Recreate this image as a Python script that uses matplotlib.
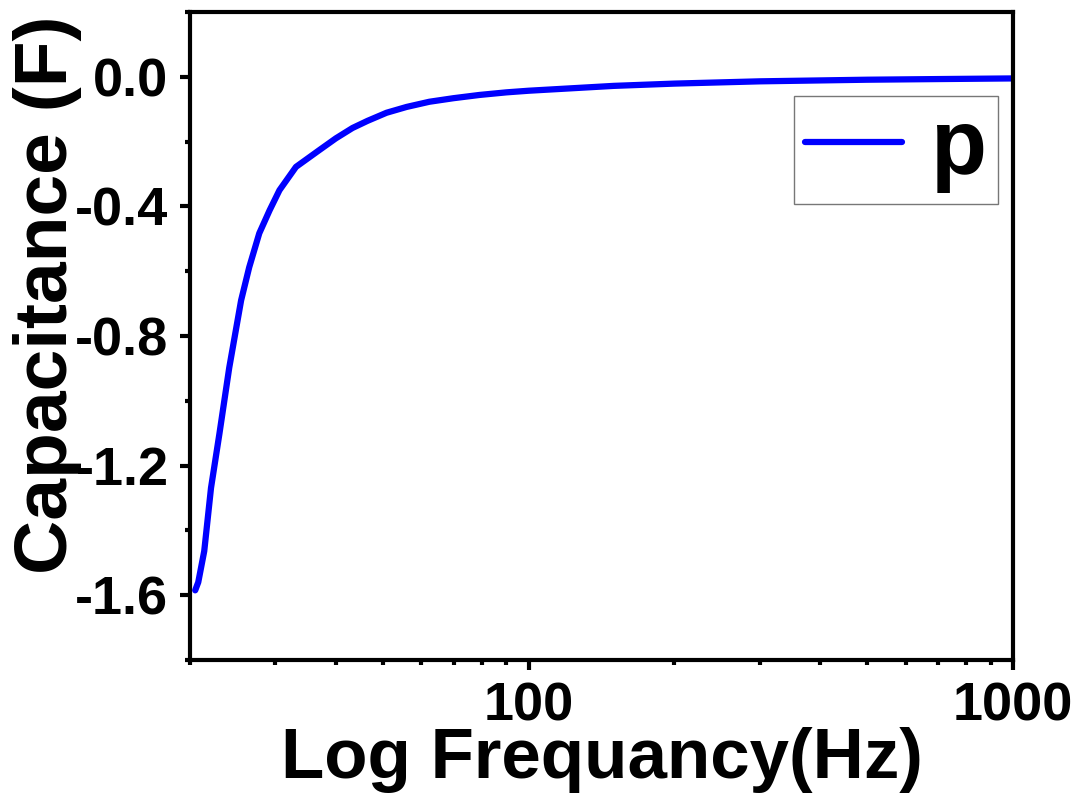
import numpy as np
import matplotlib.pyplot as plt
from matplotlib.ticker import MultipleLocator, FixedLocator, NullFormatter

# Data (frequency in Hz, capacitance in F)
freq = [20.5, 20.8, 21.4, 22.1, 23.0, 24.1, 25.5, 26.5, 27.8, 29.2, 30.6,
        33.1, 37.0, 40.0, 43.3, 46.5, 50.9, 56.0, 62.4, 70.0, 79.2, 90.0,
        100, 150, 200, 300, 500, 700, 1000]
cap = [-1.585, -1.56, -1.464, -1.269, -1.102, -0.898, -0.69, -0.588, -0.483,
       -0.412, -0.350, -0.278, -0.226, -0.190, -0.158, -0.136, -0.111,
       -0.093, -0.077, -0.066, -0.056, -0.048, -0.043, -0.028, -0.021,
       -0.014, -0.009, -0.007, -0.005]

plt.rcParams['font.family'] = ['Liberation Sans', 'DejaVu Sans']
plt.rcParams['font.weight'] = 'bold'

fig = plt.figure(figsize=(10.81, 7.96), dpi=100)
ax = fig.add_axes([190 / 1081, 136 / 796, 823 / 1081, 648 / 796])

ax.plot(freq, cap, color='#0000ff', lw=4.5, label='p',
        solid_capstyle='round', solid_joinstyle='round')

ax.set_xscale('log')
ax.set_xlim(20, 1000)
ax.set_ylim(-1.8, 0.2)

ax.xaxis.set_major_locator(FixedLocator([100, 1000]))
ax.xaxis.set_major_formatter(plt.FuncFormatter(lambda v, p: '%d' % v))
ax.xaxis.set_minor_locator(FixedLocator([20, 30, 40, 50, 60, 70, 80, 90,
                                         200, 300, 400, 500, 600, 700, 800, 900]))
ax.xaxis.set_minor_formatter(NullFormatter())
ax.yaxis.set_major_locator(MultipleLocator(0.4))
ax.yaxis.set_minor_locator(MultipleLocator(0.2))
ax.yaxis.set_major_formatter(plt.FuncFormatter(lambda v, p: '%.1f' % v))

for s in ax.spines.values():
    s.set_linewidth(3)
ax.tick_params(which='major', direction='out', length=7.5, width=3,
               labelsize=39, pad=8)
ax.tick_params(which='minor', direction='out', length=3.8, width=3)
for lab in ax.get_xticklabels() + ax.get_yticklabels():
    lab.set_fontweight('bold')

ax.set_xlabel('Log Frequancy(Hz)', fontsize=51, fontweight='bold', labelpad=-3)
ax.set_ylabel('Capacitance (F)', fontsize=54, fontweight='bold')
ax.yaxis.set_label_coords(-0.131, 0.563)

leg = ax.legend(loc='upper right', bbox_to_anchor=(0.982, 0.870), fontsize=66,
                frameon=True, fancybox=False, handlelength=1.06,
                handletextpad=0.32, borderpad=0.12, borderaxespad=0)
leg.get_frame().set_edgecolor('#555555')
leg.get_frame().set_linewidth(1)
for t in leg.get_texts():
    t.set_fontweight('bold')

fig.savefig('out.png', dpi=100)
